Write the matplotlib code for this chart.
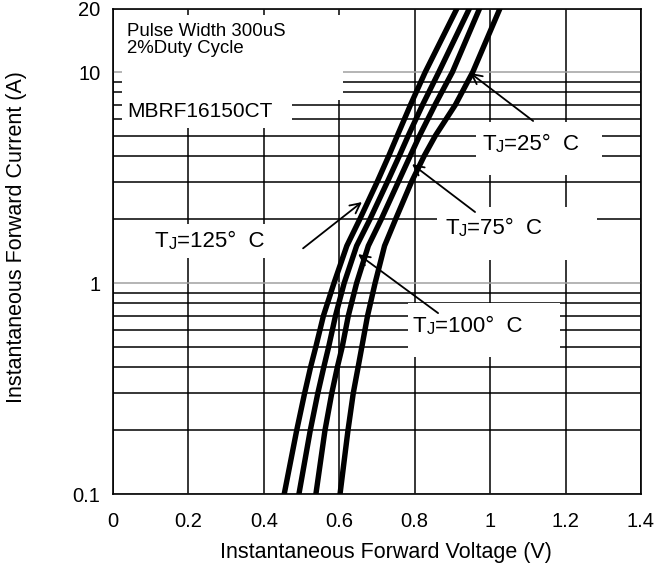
import numpy as np
import matplotlib
matplotlib.use("Agg")
import matplotlib.pyplot as plt
import matplotlib.ticker as ticker
from matplotlib.patches import Rectangle

# forward current (A) where the curves were read
current = [0.1, 0.2, 0.3, 0.4, 0.5, 0.7, 1, 1.5, 2, 3, 4, 5, 7, 10, 20]

# forward voltage (V) per junction temperature
v_125 = [0.454, 0.487, 0.508, 0.524, 0.538, 0.558, 0.586, 0.620, 0.654, 0.700, 0.731, 0.754, 0.789, 0.828, 0.912]
v_100 = [0.493, 0.523, 0.543, 0.559, 0.572, 0.590, 0.613, 0.646, 0.681, 0.727, 0.759, 0.783, 0.821, 0.864, 0.945]
v_75 = [0.538, 0.562, 0.580, 0.595, 0.608, 0.624, 0.646, 0.677, 0.711, 0.756, 0.788, 0.813, 0.854, 0.900, 0.972]
v_25 = [0.602, 0.623, 0.637, 0.650, 0.660, 0.675, 0.695, 0.720, 0.749, 0.791, 0.825, 0.855, 0.908, 0.954, 1.026]

x_ticks = [0, 0.2, 0.4, 0.6, 0.8, 1, 1.2, 1.4]
x_tick_labels = ["0", "0.2", "0.4", "0.6", "0.8", "1", "1.2", "1.4"]
y_ticks = [0.1, 1, 10, 20]
y_tick_labels = ["0.1", "1", "10", "20"]

# label text, label anchor (axes fraction), arrow tail / head (data)
temps = ["25", "75", "125", "100"]
label_pos = [(0.699, 0.7085), (0.629, 0.5355), (0.0795, 0.5088), (0.568, 0.3337)]
arrow_tail = [(1.114, 5.86), (0.960, 2.17), (0.504, 1.46), (0.862, 0.72)]
arrow_head = [(0.947, 9.9), (0.793, 3.66), (0.660, 2.42), (0.650, 1.37)]

# white boxes behind the labels (axes fraction: x, y, w, h)
boxes = [(0.017, 0.812, 0.419, 0.175),
         (0.017, 0.754, 0.322, 0.058),
         (0.6875, 0.657, 0.2385, 0.109),
         (0.614, 0.482, 0.303, 0.109),
         (0.559, 0.282, 0.288, 0.111),
         (0.066, 0.486, 0.231, 0.070)]

arial = ["Liberation Sans", "DejaVu Sans"]

fig = plt.figure(figsize=(6.59, 5.71), dpi=100)
ax = fig.add_axes([113 / 659, 1 - 494 / 571, 528 / 659, 485.5 / 571])

ax.set_yscale("log")
ax.set_xlim(0, 1.4)
ax.set_ylim(0.1, 20)

ax.set_xticks(x_ticks)
ax.set_xticklabels(x_tick_labels, fontfamily=arial, fontsize=14.5)
ax.set_yticks(y_ticks)
ax.set_yticklabels(y_tick_labels, fontfamily=arial, fontsize=14.5)
ax.yaxis.set_minor_locator(ticker.LogLocator(base=10, subs=np.arange(2, 10)))
ax.yaxis.set_minor_formatter(ticker.NullFormatter())
ax.tick_params(which="both", length=0)
ax.tick_params(axis="x", pad=13)
ax.tick_params(axis="y", pad=9)

ax.set_axisbelow(True)
ax.grid(which="major", axis="x", color="black", lw=1.1)
ax.grid(which="minor", axis="y", color="black", lw=1.1)
ax.grid(which="major", axis="y", color="#a0a0a0", lw=1.1)

for s in ax.spines.values():
    s.set_linewidth(1.2)

for b in boxes:
    ax.add_patch(Rectangle((b[0], b[1]), b[2], b[3], transform=ax.transAxes,
                           facecolor="white", edgecolor="none", zorder=1))

for v in [v_125, v_100, v_75, v_25]:
    ax.plot(v, current, color="black", lw=3.9, solid_joinstyle="round", zorder=3)

ax.set_xlabel("Instantaneous Forward Voltage (V)", fontfamily=arial, fontsize=15.5)
ax.set_ylabel("Instantaneous Forward Current (A)", fontfamily=arial, fontsize=15.5)
ax.xaxis.set_label_coords(0.517, -0.098)
ax.yaxis.set_label_coords(-0.162, 0.529)

ax.text(0.0265, 0.943, "Pulse Width 300uS", transform=ax.transAxes, fontfamily=arial,
        fontsize=13.4, va="baseline", zorder=4)
ax.text(0.0265, 0.908, "2%Duty Cycle", transform=ax.transAxes, fontfamily=arial,
        fontsize=13.4, va="baseline", zorder=4)
ax.text(0.0265, 0.7765, "MBRF16150CT", transform=ax.transAxes, fontfamily=arial,
        fontsize=15, va="baseline", zorder=4)

for t, p, a, h in zip(temps, label_pos, arrow_tail, arrow_head):
    t1 = ax.text(p[0], p[1], "T", transform=ax.transAxes, fontfamily=arial,
                 fontsize=16, va="baseline", zorder=4)
    t2 = ax.annotate("J", xy=(1, 0), xycoords=t1, fontfamily=arial, fontsize=12,
                     va="bottom", ha="left", zorder=4)
    ax.annotate("=" + t + "\u00b0  C", xy=(1, 0), xycoords=(t2, t1), fontfamily=arial,
                fontsize=16, va="bottom", ha="left", zorder=4)
    ax.annotate("", xy=h, xytext=a, xycoords="data", textcoords="data",
                arrowprops=dict(arrowstyle="->", lw=1.3, color="black",
                                mutation_scale=18, shrinkA=0, shrinkB=0), zorder=4)

fig.savefig("out.png", dpi=100)
